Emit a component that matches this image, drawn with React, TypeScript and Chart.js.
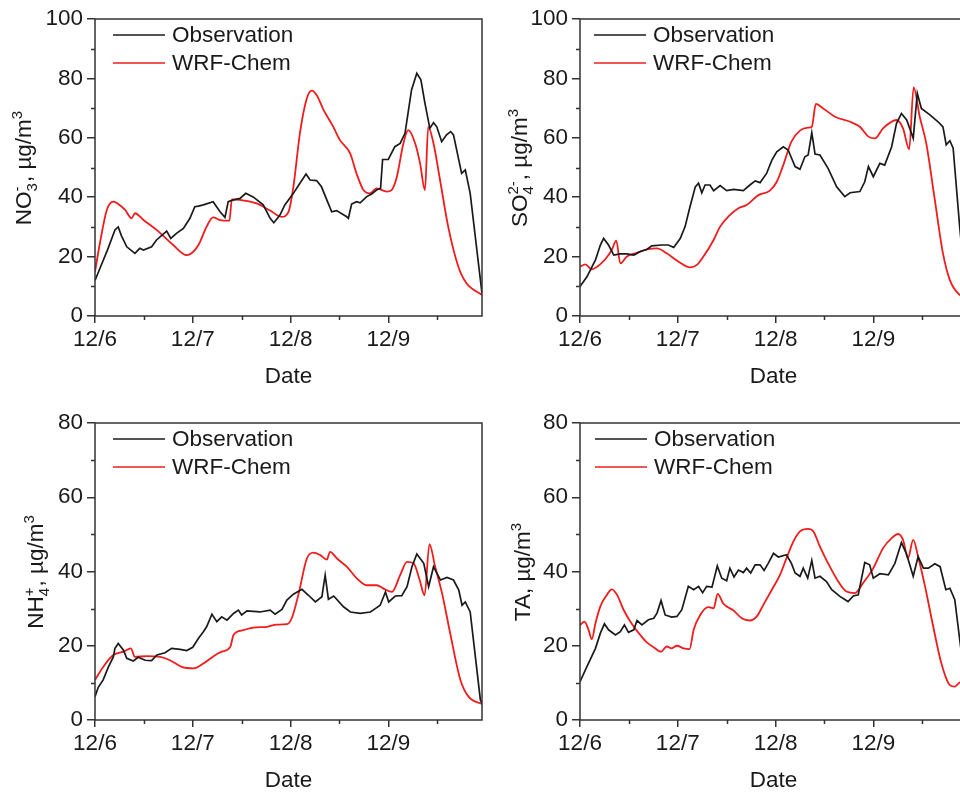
import React, { useEffect, useRef } from "react";
import { Chart, registerables } from "chart.js";

Chart.register(...registerables);

const FONT = '"Liberation Sans", Arial, sans-serif';
const FONT_SIZE = 22.5;
const TEXT = "#1a1a1a";
const AXIS = "#333333";
const OBS_COLOR = "#1a1a1a";
const WRF_COLOR = "#f01c1c";

const dateLabels = ["12/6", "12/7", "12/8", "12/9"];
const seriesNames = ["Observation", "WRF-Chem"];
const lastHour = 95;

// [hour since 12/6 00:00, value µg/m3]
const no3Obs: [number, number][] = [
  [0, 12], [1.5, 17], [3, 22], [4.9, 29], [5.7, 30], [6.5, 27], [7.8, 23.3], [9.8, 21.1], [11, 22.8], [11.9, 22.2],
  [13.9, 23.3], [15.1, 25.6], [17.6, 28.6], [18.6, 26.1], [20, 27.8], [21.7, 29.5], [23.3, 32.9], [24.5, 36.8],
  [25.4, 37], [26.6, 37.4], [29, 38.5], [30.7, 35.1], [31.9, 33.2], [32.7, 38.5], [34, 39.1], [35.6, 39.6],
  [37, 41.3], [38.9, 40], [41.3, 37.4], [43, 32.9], [43.9, 31.4], [45.4, 34], [46.6, 37.4], [48.7, 41.3],
  [50.3, 44.7], [51.8, 47.8], [52.8, 45.8], [54.4, 45.6], [55.6, 43.5], [58.1, 35.1], [59.3, 35.5], [61.8, 33.4],
  [62.2, 32.9], [63, 37.7], [64.2, 38.5], [65.1, 38.1], [66.7, 40.2], [67.9, 41.1], [69.1, 42.4], [70.1, 43],
  [70.6, 52.7], [72, 52.7], [73.6, 57], [74.9, 58.1], [76.1, 61.5], [77.7, 76.1], [79, 81.7], [80, 79.5],
  [81, 71.6], [82.2, 63.2], [83.1, 65.1], [83.9, 63.7], [85.1, 58.7], [86.3, 61], [87.3, 62.1], [88, 61],
  [90, 48], [90.9, 49.2], [92.1, 41.3], [95, 7.6],
];
const no3Wrf: [number, number][] = [
  [0, 14.9], [1.2, 24.5], [2.9, 35.7], [4.5, 38.5], [5.7, 37.7], [7.4, 35.7], [9, 32.9], [9.8, 34.6], [11.9, 32.3],
  [15.1, 29], [19.2, 23.9], [22.5, 20.5], [23.7, 21.1], [25.4, 23.9], [27.4, 30.1], [29, 33.2], [30.7, 32.3],
  [33, 32.1], [33.6, 39.3], [35.6, 39.1], [39.7, 37.9], [43, 35.5], [45.8, 33.4], [47.5, 35.1], [48.7, 43.5],
  [50.3, 61.5], [52, 73.3], [53.2, 75.9], [54.4, 74.4], [56.1, 69.4], [58.5, 63.7], [60.1, 59.3], [62.6, 54.8],
  [64.2, 48], [65.9, 42.4], [67.5, 41.3], [69.1, 43], [71.6, 41.9], [72.8, 42.4], [74.1, 46.9], [75.7, 58.1],
  [76.9, 62.6], [78.6, 58.1], [79.8, 51.4], [81, 42.4], [81.8, 63.7], [83.1, 58.1], [84.7, 45.8], [86.7, 30.1],
  [89.2, 16.6], [91.2, 11], [95, 7.1],
];
const so4Obs: [number, number][] = [
  [0, 9.9], [1.7, 13.2], [3.8, 18.9], [5, 23.9], [5.8, 26.1], [7, 23.9], [8.3, 20.5], [9.9, 20.9], [11.5, 20.9],
  [13.2, 20.5], [14.8, 21.7], [16.4, 22.4], [17.6, 23.6], [20.1, 23.9], [21.7, 23.9], [23, 23.1], [24.6, 26.1],
  [25.8, 30.1], [27, 36.8], [28.3, 43.5], [29.1, 44.7], [29.9, 41.5], [30.7, 44.1], [31.9, 44.1], [32.8, 42.2],
  [34.4, 43.9], [36, 42.2], [37.7, 42.6], [40.1, 42.2], [41.7, 44.1], [43, 45.5], [44.2, 44.9], [45.8, 48],
  [47.1, 52.5], [48.3, 55.3], [49.9, 57], [51.1, 55.9], [52.8, 50.3], [54, 49.4], [55.2, 53.6], [56, 54.2],
  [56.9, 61.7], [57.7, 54.5], [58.9, 54.2], [60.9, 49.7], [63, 43.5], [65, 40.2], [66.3, 41.5], [68.7, 41.9],
  [69.9, 45.2], [70.8, 50.3], [72, 46.9], [73.6, 51.4], [74.8, 50.8], [76.5, 57], [77.7, 64.9], [78.9, 68.2],
  [80.2, 66], [81.8, 59.8], [82.8, 75], [83.8, 69.9], [85.9, 67.7], [87.9, 65.4], [89.1, 63.7], [89.9, 57.6],
  [90.8, 59], [91.6, 56.5], [93.2, 30.1], [94.2, 16], [95, 9],
];
const so4Wrf: [number, number][] = [
  [0, 16.6], [1.3, 17.4], [2.9, 15.7], [4.2, 16.6], [6.2, 19.1], [7.8, 22.2], [8.9, 25.4], [9.9, 17.7], [11.5, 20],
  [14, 21.3], [16.4, 22.4], [18.9, 22.8], [21.3, 21.1], [24.2, 18.3], [27, 16.4], [28.7, 17.2], [30.3, 20],
  [32.8, 25.6], [34.4, 30.1], [36.8, 34], [38.9, 36.3], [40.9, 37.4], [43.8, 40.7], [46.6, 42.2], [48.3, 45.2],
  [49.9, 50.8], [51.9, 58.7], [54, 62.4], [56, 63.4], [56.9, 63.7], [57.9, 71.4], [59.7, 69.9], [62.6, 67.1],
  [66.3, 65.4], [68.7, 63.7], [70.8, 60.4], [72.4, 59.8], [74.4, 63.2], [77.7, 66], [79.3, 63.2], [80.8, 56.1],
  [81.9, 77], [83.4, 67.1], [85, 58.1], [87.1, 39.1], [89.1, 21.1], [90.8, 12.1], [93.2, 7.1], [95, 6],
];
const nh4Obs: [number, number][] = [
  [0, 6.3], [0.8, 8.8], [2, 10.8], [3.3, 14.3], [4.5, 17], [4.9, 19.3], [5.7, 20.6], [7, 18.8], [7.8, 16.6],
  [9.4, 15.9], [10.6, 16.9], [12.3, 16.1], [13.9, 16], [15.2, 17.5], [17.2, 18.1], [18.8, 19.3], [20.9, 19],
  [22.5, 18.7], [24, 19.6], [25.4, 22], [26.6, 23.8], [27.4, 25.1], [28.7, 28.5], [29.9, 26.5], [31.1, 27.8],
  [32.4, 26.9], [34, 28.7], [35.2, 29.6], [36, 28.3], [37.3, 29.4], [40.5, 29.1], [43, 29.6], [44.2, 28.5],
  [45.9, 29.8], [47.1, 32.3], [48.7, 33.9], [50.8, 35.2], [52.4, 33.6], [54.1, 31.8], [55.7, 33.2], [56.5, 39],
  [57.3, 32.5], [58.6, 33.4], [61, 30.5], [62.7, 29.1], [65.1, 28.7], [67.6, 29.1], [68.8, 30], [70, 30.9],
  [71.3, 34.5], [72.1, 31.8], [73.7, 33.4], [75.3, 33.5], [76.6, 35.9], [77.8, 41.3], [79, 44.7], [80.7, 42.2],
  [81.9, 35.9], [83.1, 41.3], [84.8, 37.7], [86.4, 38.4], [88, 37.7], [89.3, 35], [90.1, 30.9], [90.9, 31.8],
  [92.1, 29.1], [94.6, 5.4], [95, 4.5],
];
const nh4Wrf: [number, number][] = [
  [0, 10.8], [2, 14.3], [4.5, 17.5], [7, 18.4], [8.8, 19.3], [9.8, 17], [12.7, 17.2], [16, 17], [18.4, 16.1],
  [21.3, 14.3], [24.2, 13.9], [26.6, 15.2], [29.1, 17.2], [31.1, 18.4], [33.2, 19.7], [34, 22.9], [36.4, 24.2],
  [38.9, 24.9], [42.2, 25.1], [44.6, 25.7], [47.1, 25.8], [48.3, 27.4], [50, 34.1], [52, 43.5], [53.6, 45.1],
  [55.3, 44.4], [56.9, 43.2], [57.7, 45.3], [59.4, 43.5], [61.8, 41.3], [64.3, 38.1], [66.7, 36.3], [69.2, 36.3],
  [70.8, 35.4], [72.9, 34.5], [74.9, 39], [76.6, 42.6], [78.2, 42.2], [79.7, 37.7], [80.9, 33.6], [82.1, 47.4],
  [83.5, 41.3], [85.2, 34.1], [87.2, 23.3], [89.7, 10.8], [91.7, 6.3], [95, 4.3],
];
const taObs: [number, number][] = [
  [0, 10.3], [1.7, 14.4], [3.8, 19.3], [5, 23.4], [6, 25.9], [7, 24.3], [8.7, 22.9], [9.9, 23.8], [10.9, 25.6],
  [11.9, 23.6], [13.2, 24.3], [14, 26.8], [15.2, 25.6], [16.8, 27], [18.1, 27.4], [18.9, 28.8], [19.9, 32.2],
  [20.9, 28.3], [22.5, 27.7], [23.8, 27.9], [25, 29.7], [26.6, 36], [27.9, 35.1], [29.1, 36], [30.1, 34.3],
  [31.1, 36], [32.4, 35.8], [33.7, 41.5], [34.8, 38.2], [36, 37.5], [36.8, 40.9], [37.8, 38.5], [38.9, 40.4],
  [40.1, 39.7], [40.9, 40.9], [41.9, 39.6], [43, 41.8], [44.2, 41.8], [45.2, 40.3], [46.2, 42.2], [47.5, 44.9],
  [48.7, 43.9], [50.7, 44.5], [51.9, 42.2], [52.8, 39.6], [54, 38.7], [54.8, 40.9], [55.9, 38.2], [56.9, 43],
  [57.7, 38.2], [58.9, 38.7], [60.5, 37.3], [61.8, 35.1], [63.8, 33.3], [65.8, 31.9], [67.1, 33.4], [68.3, 33.7],
  [69.9, 42.4], [71.1, 41.8], [72, 38.2], [73.6, 39.4], [75.7, 39.1], [77.3, 42.2], [78.9, 47.8], [80.1, 44.9],
  [81.8, 38.7], [83, 44], [84.3, 40.9], [85.5, 40.9], [87.1, 42.1], [88.4, 41.3], [89.8, 35.1], [90.8, 35.5],
  [92, 32.4], [93.4, 20], [94.3, 13], [95, 9],
];
const taWrf: [number, number][] = [
  [0, 25.6], [1.1, 26.5], [2.1, 24.3], [2.9, 21.8], [3.8, 26.1], [5, 30.6], [6.6, 33.7], [7.8, 35.2], [9.1, 33.7],
  [10.7, 29.7], [12.7, 25.9], [14.8, 22.9], [16.4, 20.9], [18.1, 19.6], [19.9, 18.4], [21.3, 19.8], [22.5, 19.3],
  [23.8, 20], [25.4, 19.3], [26.9, 19.1], [27.9, 24.3], [29.5, 28.3], [31.5, 30.4], [32.8, 30.1], [33.8, 34],
  [35.2, 31.3], [37.7, 29.5], [39.7, 27.4], [41.7, 26.8], [43.4, 27.9], [45, 31], [47.1, 35.1], [49.1, 39.1],
  [50.7, 43.6], [52.4, 48.1], [54, 50.8], [56, 51.5], [57.3, 50.8], [58.9, 46.7], [60.9, 42.2], [63.4, 37.3],
  [65.4, 34.6], [67.5, 34.2], [69.5, 36.9], [72, 40.9], [74.4, 46.3], [76.5, 49], [78.1, 50.1], [79.3, 48.5],
  [80.5, 43.6], [81.8, 48.5], [83, 44], [84.7, 36], [86.7, 25.2], [88.7, 15.3], [90.8, 9.4], [92, 9],
  [93.2, 10.1], [95, 10.5],
];

type Part = { t?: string; sub?: string; sup?: string };

interface PanelCfg {
  left: number; top: number; w: number; h: number;
  plot: { l: number; r: number; t: number; b: number };
  yMax: number;
  obs: [number, number][];
  wrf: [number, number][];
  title: Part[];
  titleX: number;
  legendDx: number;
}

const panels: PanelCfg[] = [
  {
    left: 0, top: 0, w: 490, h: 400, plot: { l: 95, r: 482, t: 19, b: 316 }, yMax: 100,
    obs: no3Obs, wrf: no3Wrf, title: [{ t: "NO" }, { sub: "3", sup: "-" }, { t: ", µg/m" }, { sup: "3" }],
    titleX: 23, legendDx: 18,
  },
  {
    left: 490, top: 0, w: 480, h: 400, plot: { l: 90, r: 477, t: 19, b: 316 }, yMax: 100,
    obs: so4Obs, wrf: so4Wrf, title: [{ t: "SO" }, { sub: "4", sup: "2-" }, { t: ", µg/m" }, { sup: "3" }],
    titleX: 29, legendDx: 14,
  },
  {
    left: 0, top: 400, w: 490, h: 394, plot: { l: 95, r: 482, t: 23, b: 320 }, yMax: 80,
    obs: nh4Obs, wrf: nh4Wrf, title: [{ t: "NH" }, { sub: "4", sup: "+" }, { t: ", µg/m" }, { sup: "3" }],
    titleX: 35, legendDx: 18,
  },
  {
    left: 490, top: 400, w: 480, h: 394, plot: { l: 90, r: 477, t: 23, b: 320 }, yMax: 80,
    obs: taObs, wrf: taWrf, title: [{ t: "TA, µg/m" }, { sup: "3" }],
    titleX: 32, legendDx: 15,
  },
];

function drawTitle(ctx: CanvasRenderingContext2D, parts: Part[], cx: number, cy: number, size: number) {
  const small = Math.round(size * 0.68);
  const main = `${size}px ${FONT}`;
  const sm = `${small}px ${FONT}`;
  const widths = parts.map((p) => {
    if (p.t) { ctx.font = main; return ctx.measureText(p.t).width; }
    ctx.font = sm;
    return Math.max(ctx.measureText(p.sub || "").width, ctx.measureText(p.sup || "").width) + 1;
  });
  const total = widths.reduce((a, b) => a + b, 0);
  ctx.save();
  ctx.translate(cx, cy);
  ctx.rotate(-Math.PI / 2);
  ctx.fillStyle = TEXT;
  ctx.textBaseline = "alphabetic";
  ctx.textAlign = "left";
  const base = size * 0.36;
  let x = -total / 2;
  parts.forEach((p, i) => {
    if (p.t) {
      ctx.font = main;
      ctx.fillText(p.t, x, base);
    } else {
      ctx.font = sm;
      if (p.sub) ctx.fillText(p.sub, x, base + size * 0.28);
      if (p.sup) ctx.fillText(p.sup, x, base - size * 0.42);
    }
    x += widths[i];
  });
  ctx.restore();
}

function Panel({ cfg }: { cfg: PanelCfg }) {
  const ref = useRef<HTMLCanvasElement>(null);
  useEffect(() => {
    const decor = {
      id: "decor",
      afterDraw(chart: any) {
        const ctx: CanvasRenderingContext2D = chart.ctx;
        const a = chart.chartArea;
        const xs = chart.scales.x;
        const ys = chart.scales.y;
        ctx.save();
        // frame
        ctx.strokeStyle = AXIS;
        ctx.lineWidth = 1.5;
        ctx.strokeRect(a.left, a.top, a.right - a.left, a.bottom - a.top);
        // minor ticks
        ctx.beginPath();
        for (let v = 10; v < cfg.yMax; v += 20) {
          const py = Math.round(ys.getPixelForValue(v)) + 0.5;
          ctx.moveTo(a.left - 4, py);
          ctx.lineTo(a.left, py);
        }
        for (let hr = 12; hr < lastHour; hr += 24) {
          const px = Math.round(xs.getPixelForValue(hr)) + 0.5;
          ctx.moveTo(px, a.bottom);
          ctx.lineTo(px, a.bottom + 4);
        }
        ctx.stroke();
        // x title
        ctx.fillStyle = TEXT;
        ctx.font = `${FONT_SIZE}px ${FONT}`;
        ctx.textAlign = "center";
        ctx.textBaseline = "middle";
        ctx.fillText("Date", (a.left + a.right) / 2, a.bottom + 61);
        // y title
        drawTitle(ctx, cfg.title, cfg.titleX, (a.top + a.bottom) / 2, FONT_SIZE);
        // legend
        chart.data.datasets.forEach((ds: any, i: number) => {
          const y = a.top + 16 + i * 28;
          ctx.strokeStyle = ds.borderColor;
          ctx.lineWidth = 1.6;
          ctx.beginPath();
          ctx.moveTo(a.left + cfg.legendDx, y);
          ctx.lineTo(a.left + cfg.legendDx + 52, y);
          ctx.stroke();
          ctx.fillStyle = TEXT;
          ctx.textAlign = "left";
          ctx.textBaseline = "middle";
          ctx.font = `${FONT_SIZE}px ${FONT}`;
          ctx.fillText(ds.label, a.left + cfg.legendDx + 59, y + 1);
        });
        ctx.restore();
      },
    };
    const tickFont = { family: FONT, size: FONT_SIZE };
    const chart = new Chart(ref.current!, {
      type: "line",
      data: {
        datasets: [
          {
            label: seriesNames[0],
            data: cfg.obs.map(([x, y]) => ({ x, y })),
            borderColor: OBS_COLOR,
            borderWidth: 1.7,
            pointRadius: 0,
            tension: 0,
          },
          {
            label: seriesNames[1],
            data: cfg.wrf.map(([x, y]) => ({ x, y })),
            borderColor: WRF_COLOR,
            borderWidth: 1.8,
            pointRadius: 0,
            cubicInterpolationMode: "monotone",
          },
        ],
      },
      options: {
        responsive: false,
        animation: false,
        events: [],
        layout: { padding: { left: 0, top: cfg.plot.t, right: cfg.w - cfg.plot.r, bottom: 0 } },
        plugins: { legend: { display: false }, tooltip: { enabled: false } },
        scales: {
          x: {
            type: "linear",
            min: 0,
            max: lastHour,
            afterBuildTicks: (s: any) => { s.ticks = s.ticks.filter((t: any) => t.value % 24 === 0); },
            afterFit: (s: any) => { s.height = cfg.h - cfg.plot.b; },
            ticks: {
              stepSize: 24,
              autoSkip: false,
              maxRotation: 0,
              padding: 3,
              color: TEXT,
              font: tickFont,
              callback: (v: any) => dateLabels[Math.round(Number(v) / 24)] ?? "",
            },
            grid: { display: true, drawOnChartArea: false, drawTicks: true, tickLength: 7, color: AXIS, lineWidth: 1.5 },
            border: { display: false },
          },
          y: {
            min: 0,
            max: cfg.yMax,
            afterFit: (s: any) => { s.width = cfg.plot.l; },
            ticks: { stepSize: 20, padding: 4, color: TEXT, font: tickFont },
            grid: { display: true, drawOnChartArea: false, drawTicks: true, tickLength: 8, color: AXIS, lineWidth: 1.5 },
            border: { display: false },
          },
        },
      },
      plugins: [decor],
    } as any);
    return () => chart.destroy();
  }, []);
  return (
    <canvas
      ref={ref}
      width={cfg.w}
      height={cfg.h}
      style={{ position: "absolute", left: cfg.left, top: cfg.top, width: cfg.w, height: cfg.h }}
    />
  );
}

export default function App() {
  return (
    <div style={{ position: "absolute", left: 0, top: 0, width: 960, height: 794, overflow: "hidden", background: "#fff" }}>
      {panels.map((p, i) => (
        <Panel key={i} cfg={p} />
      ))}
    </div>
  );
}
